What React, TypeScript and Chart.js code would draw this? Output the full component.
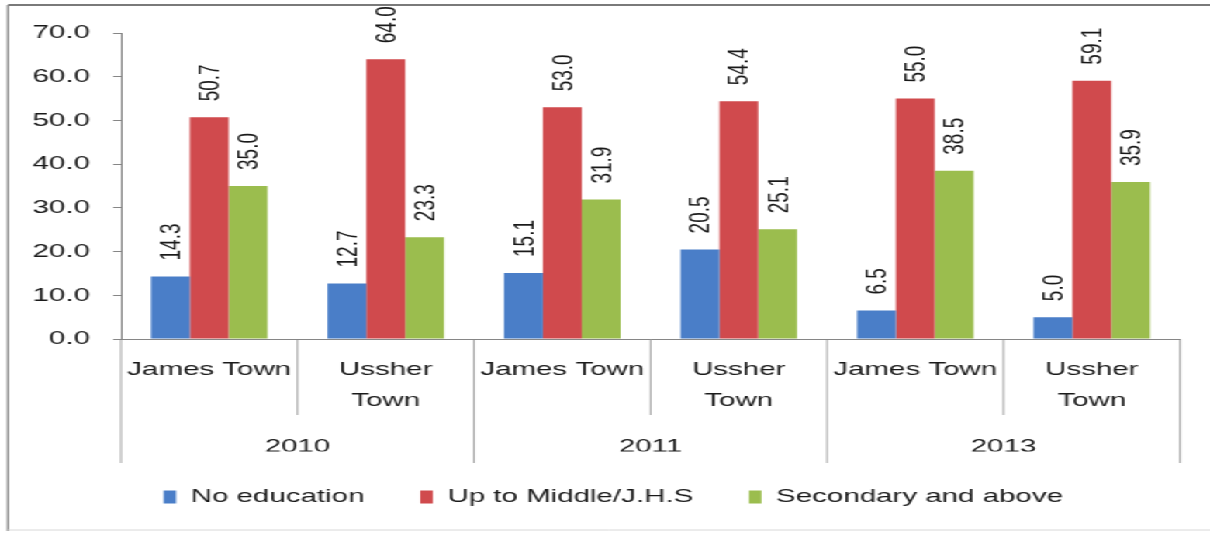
import React, { useEffect, useRef } from "react";
import { Chart, registerables } from "chart.js";

Chart.register(...registerables);

// ---- data ----
const years = ["2010", "2011", "2013"];
const categories = [
  ["James Town"],
  ["Ussher", "Town"],
  ["James Town"],
  ["Ussher", "Town"],
  ["James Town"],
  ["Ussher", "Town"],
];
const seriesNames = ["No education", "Up to Middle/J.H.S", "Secondary and above"];
const noEducation = [14.3, 12.7, 15.1, 20.5, 6.5, 5.0];
const upToMiddle = [50.7, 64.0, 53.0, 54.4, 55.0, 59.1];
const secondaryAbove = [35.0, 23.3, 31.9, 25.1, 38.5, 35.9];
const yMin = 0;
const yMax = 70;
const yStep = 10;

// ---- styling ----
const CANVAS_W = 780;
const CANVAS_H = 534;
const STRETCH = 1210 / CANVAS_W;
const FONT = "'Liberation Sans', Arial, sans-serif";
const TEXT = "#1a1a1a";
const AXIS = "#868686";
const colors = ["#4A7EC8", "#D04A4D", "#9BBD4E"];

const overlayPlugin = {
  id: "overlay",
  afterLayout(chart: any) {
    // widen the y-axis label clip box to the left edge so tick labels are not cut
    const y = chart.scales.y;
    if (y) y.left = 8;
  },
  afterDatasetsDraw(chart: any) {
    const ctx = chart.ctx;
    ctx.save();
    ctx.fillStyle = TEXT;
    ctx.font = `19px ${FONT}`;
    ctx.textAlign = "left";
    ctx.textBaseline = "middle";
    chart.data.datasets.forEach((ds: any, di: number) => {
      const meta = chart.getDatasetMeta(di);
      meta.data.forEach((el: any, i: number) => {
        const v = ds.data[i] as number;
        ctx.save();
        ctx.translate(el.x, el.y - 16);
        ctx.rotate(-Math.PI / 2);
        ctx.fillText(v.toFixed(1), 0, 1);
        ctx.restore();
      });
    });
    ctx.restore();
  },
  afterDraw(chart: any) {
    const ctx = chart.ctx;
    const xs = chart.scales.x;
    const x2 = chart.scales.x2;
    const n = categories.length;
    const perGroup = n / years.length;
    const cw = (xs.right - xs.left) / n;
    ctx.save();
    ctx.strokeStyle = AXIS;
    ctx.lineWidth = (1 / STRETCH) * 1.2;
    for (let i = 0; i <= n; i++) {
      const x = xs.left + i * cw;
      const bottom = i % perGroup === 0 ? x2.top + 48 : xs.bottom;
      ctx.beginPath();
      ctx.moveTo(x, xs.top);
      ctx.lineTo(x, bottom);
      ctx.stroke();
    }
    // outer frame
    ctx.strokeStyle = "#7a7a7a";
    ctx.lineWidth = 2;
    ctx.beginPath();
    ctx.moveTo(8 / STRETCH, 5);
    ctx.lineTo(CANVAS_W, 5);
    ctx.stroke();
    ctx.lineWidth = 2 / STRETCH;
    ctx.beginPath();
    ctx.moveTo(8 / STRETCH, 5);
    ctx.lineTo(8 / STRETCH, 531);
    ctx.stroke();
    ctx.strokeStyle = "#d8d8d8";
    ctx.lineWidth = 1;
    ctx.beginPath();
    ctx.moveTo(8 / STRETCH, 530);
    ctx.lineTo(CANVAS_W, 530);
    ctx.stroke();
    ctx.restore();
  },
};

export default function App() {
  const ref = useRef<HTMLCanvasElement | null>(null);

  useEffect(() => {
    if (!ref.current) return;
    const chart = new Chart(ref.current, {
      type: "bar",
      data: {
        labels: categories as any,
        datasets: [
          { label: seriesNames[0], data: noEducation, backgroundColor: colors[0], borderWidth: 0 },
          { label: seriesNames[1], data: upToMiddle, backgroundColor: colors[1], borderWidth: 0 },
          { label: seriesNames[2], data: secondaryAbove, backgroundColor: colors[2], borderWidth: 0 },
        ],
      },
      options: {
        animation: false,
        responsive: true,
        maintainAspectRatio: false,
        datasets: { bar: { categoryPercentage: 0.66, barPercentage: 1.0 } },
        layout: { padding: { top: 33, left: 30, right: 19.3, bottom: 17.5 } },
        plugins: {
          tooltip: { enabled: false },
          legend: {
            position: "bottom",
            labels: {
              font: { family: FONT, size: 19 },
              color: TEXT,
              boxWidth: 8,
              boxHeight: 13,
              padding: 36,
            },
          },
        },
        scales: {
          x: {
            type: "category",
            position: "bottom",
            weight: 1,
            offset: true,
            grid: { display: false, drawTicks: false, drawOnChartArea: false },
            border: { display: true, color: AXIS, width: 1 },
            ticks: {
              autoSkip: false,
              maxRotation: 0,
              minRotation: 0,
              padding: 15.5,
              color: TEXT,
              font: { family: FONT, size: 19, lineHeight: 31 / 19 },
            },
            afterFit: (s: any) => {
              s.height = 76;
            },
          },
          x2: {
            type: "category",
            position: "bottom",
            weight: 2,
            labels: years,
            offset: true,
            grid: { display: false, drawTicks: false, drawOnChartArea: false },
            border: { display: false },
            ticks: {
              autoSkip: false,
              maxRotation: 0,
              minRotation: 0,
              padding: 16.5,
              color: TEXT,
              font: { family: FONT, size: 19, lineHeight: 31 / 19 },
            },
            afterFit: (s: any) => {
              s.height = 36.5;
            },
          },
          y: {
            min: yMin,
            max: yMax,
            grid: { display: true, drawOnChartArea: false, drawTicks: true, tickLength: 5, color: AXIS },
            border: { display: true, color: AXIS, width: 1 },
            ticks: {
              stepSize: yStep,
              padding: 15,
              color: TEXT,
              font: { family: FONT, size: 19 },
              callback: (v: any) => Number(v).toFixed(1),
            },
            afterFit: (s: any) => {
              s.width = 48;
            },
          },
        },
      },
      plugins: [overlayPlugin],
    });
    return () => chart.destroy();
  }, []);

  return (
    <div
      style={{
        position: "fixed",
        left: 0,
        top: 0,
        width: CANVAS_W + "px",
        height: CANVAS_H + "px",
        transform: `scaleX(${STRETCH})`,
        transformOrigin: "0 0",
        background: "#fff",
      }}
    >
      <canvas ref={ref} />
    </div>
  );
}
